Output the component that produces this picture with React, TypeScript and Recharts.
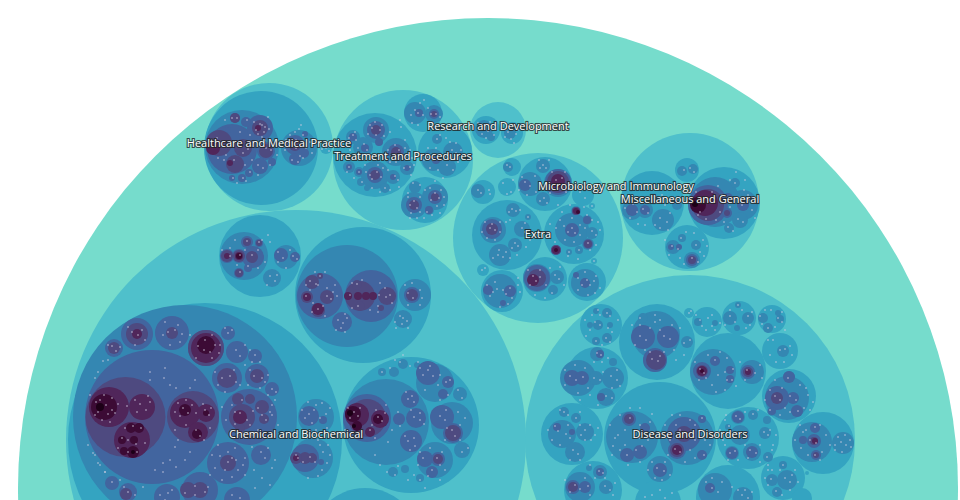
import { ScatterChart, Scatter, XAxis, YAxis, ZAxis } from 'recharts'

type Bubble = number[] // x, y, radius

const level0: Bubble[] = [[488, 488, 470]]

const level1: Bubble[] = [
  [269, 147, 64], [403, 160, 70], [498, 130, 28], [538, 238, 85], [690, 202, 69], [296, 440, 230], [690, 440, 165],
]

const level2: Bubble[] = [
  [261, 148, 57], [326, 148, 6], [375, 155, 42], [423, 113, 19], [445, 151, 27], [425, 200, 23],
  [486, 130, 14], [512, 133, 11],
  [545, 184, 27], [512, 167, 9], [483, 192, 12], [507, 187, 9], [507, 235, 35], [574, 234, 30], [545, 279, 22],
  [587, 282, 19], [502, 291, 21], [483, 270, 6], [594, 261, 3], [592, 206, 3], [583, 195, 11],
  [687, 170, 12], [652, 203, 32], [724, 203, 36], [687, 247, 22],
  [205, 440, 137], [260, 256, 41], [363, 295, 68], [411, 425, 68], [365, 543, 55],
  [601, 325, 21], [657, 342, 38], [689, 313, 5], [707, 322, 15], [739, 318, 17], [772, 319, 14], [780, 351, 18],
  [728, 371, 38], [789, 396, 27], [597, 378, 31], [572, 434, 31], [660, 438, 56], [748, 438, 31], [823, 443, 31],
  [593, 490, 29], [783, 478, 22], [728, 497, 32], [658, 503, 23], [802, 498, 10], [807, 473, 2],
]

const level3: Bubble[] = [
  [242, 147, 37], [299, 148, 18],
  [353, 137, 7], [376, 130, 13], [396, 152, 14], [363, 147, 10], [375, 175, 14], [393, 177, 7], [407, 168, 7],
  [349, 167, 6], [359, 172, 5], [361, 182, 4], [385, 188, 5], [367, 188, 3],
  [415, 113, 11], [434, 114, 9], [437, 139, 5], [433, 160, 11], [447, 167, 9], [453, 152, 10],
  [414, 205, 13], [435, 197, 13], [415, 187, 6], [429, 210, 5],
  [484, 129, 9], [491, 137, 4], [510, 133, 6], [517, 128, 3],
  [530, 184, 12], [558, 183, 14], [543, 166, 7], [543, 199, 7], [508, 167, 5], [478, 191, 7],
  [493, 230, 13], [513, 210, 7], [500, 255, 11], [515, 245, 7], [522, 229, 8], [528, 217, 3],
  [572, 230, 17], [587, 220, 5], [576, 211, 5], [556, 250, 5], [588, 244, 6], [592, 233, 6], [569, 252, 3], [579, 250, 4],
  [537, 278, 14], [557, 277, 7], [553, 290, 5], [585, 283, 14], [500, 291, 17],
  [682, 171, 5], [693, 169, 5], [632, 210, 10], [645, 210, 8], [663, 220, 11], [677, 205, 5],
  [715, 202, 25], [743, 205, 15], [740, 220, 8], [735, 183, 5], [729, 228, 5],
  [673, 247, 7], [696, 245, 5], [692, 260, 8], [682, 238, 4],
  [185, 417, 112], [316, 417, 18], [313, 458, 20],
  [244, 256, 24], [286, 257, 12], [272, 278, 9],
  [347, 296, 51], [415, 295, 16], [403, 319, 9],
  [386, 422, 43], [435, 383, 19], [452, 423, 21], [435, 460, 18], [462, 450, 8], [460, 394, 7], [394, 372, 5],
  [382, 372, 4], [403, 364, 5], [417, 365, 3], [420, 478, 4], [405, 469, 4], [393, 472, 5],
  [598, 325, 5], [590, 325, 3], [607, 313, 5], [596, 311, 3], [610, 325, 3], [607, 338, 5], [596, 341, 4],
  [656, 335, 24], [655, 360, 12], [643, 318, 5], [658, 322, 4], [687, 342, 6],
  [698, 322, 4], [715, 323, 3], [730, 318, 7], [748, 318, 6], [738, 305, 3], [737, 328, 3],
  [763, 318, 5], [778, 313, 3], [780, 319, 4], [768, 328, 5], [783, 351, 6],
  [713, 372, 23], [752, 372, 12], [787, 398, 22], [793, 398, 8], [789, 377, 6], [797, 411, 6], [772, 411, 5],
  [578, 378, 18], [596, 378, 7], [613, 378, 11], [597, 354, 7], [613, 362, 4], [606, 397, 9],
  [562, 434, 14], [585, 432, 9], [575, 452, 10], [576, 418, 5], [564, 412, 5],
  [632, 437, 26], [687, 438, 27], [660, 469, 13],
  [738, 417, 7], [732, 453, 7], [752, 452, 9], [740, 435, 10], [765, 433, 6], [768, 457, 5], [753, 415, 5], [767, 420, 4], [728, 427, 3],
  [812, 442, 20], [843, 443, 11],
  [580, 487, 15], [606, 487, 7], [600, 472, 7], [589, 468, 3], [787, 480, 10], [772, 480, 6], [783, 465, 4], [777, 492, 5],
  [715, 490, 17], [743, 497, 10],
]

const level4: Bubble[] = [
  [232, 149, 25], [260, 128, 13], [235, 118, 5], [246, 122, 5], [228, 130, 3], [269, 129, 3], [266, 151, 9],
  [260, 166, 8], [249, 173, 4], [242, 178, 4], [232, 178, 3], [235, 164, 9], [272, 162, 4],
  [295, 145, 10], [295, 159, 6], [304, 153, 5], [305, 134, 3],
  [376, 130, 9], [379, 142, 4], [396, 152, 8], [375, 175, 8], [353, 137, 4], [414, 205, 8], [435, 197, 7], [429, 210, 4],
  [419, 113, 4], [434, 114, 5], [436, 160, 4], [365, 148, 4], [349, 167, 3], [359, 172, 3], [407, 168, 3], [393, 177, 3],
  [525, 185, 6], [558, 182, 13], [492, 229, 10], [588, 244, 5], [587, 220, 4], [576, 211, 4], [556, 250, 5],
  [572, 230, 7], [537, 278, 13], [585, 283, 5], [576, 275, 3], [488, 290, 5], [510, 291, 6], [503, 303, 3],
  [632, 210, 6], [645, 210, 5], [708, 205, 20], [727, 213, 5], [728, 198, 5], [743, 205, 6], [692, 260, 6], [671, 247, 3], [679, 247, 3],
  [137, 334, 16], [172, 333, 17], [114, 348, 9], [206, 348, 18], [228, 333, 7], [237, 352, 11], [255, 356, 7],
  [227, 378, 15], [257, 376, 12], [272, 389, 7], [249, 417, 28], [228, 463, 21], [261, 455, 10], [112, 483, 7],
  [128, 492, 9], [167, 497, 13], [200, 490, 18], [237, 500, 13], [152, 417, 67],
  [309, 416, 10], [323, 420, 4], [305, 458, 14], [321, 462, 3],
  [247, 242, 6], [259, 243, 4], [227, 256, 7], [239, 256, 7], [253, 257, 11], [239, 273, 5], [248, 268, 4], [281, 255, 7], [295, 257, 5],
  [320, 296, 23], [371, 296, 26], [342, 322, 10], [412, 295, 8],
  [367, 418, 24], [410, 399, 9], [416, 418, 10], [411, 441, 11], [399, 419, 6], [428, 373, 12], [448, 382, 6], [443, 394, 5],
  [442, 417, 12], [453, 433, 10], [425, 459, 8], [438, 459, 7], [432, 472, 6],
  [643, 337, 12], [668, 337, 11], [655, 360, 12], [702, 371, 9], [715, 361, 5], [730, 370, 4], [730, 379, 4], [748, 372, 7],
  [777, 398, 12], [793, 398, 6], [789, 377, 6], [797, 411, 6], [772, 411, 4],
  [572, 378, 8], [582, 378, 7], [600, 354, 4], [601, 397, 4],
  [557, 427, 4], [572, 432, 3],
  [629, 419, 7], [627, 455, 7], [645, 428, 5], [640, 452, 7], [684, 434, 17], [677, 450, 9], [702, 419, 4], [702, 455, 5], [660, 470, 7],
  [738, 417, 6], [732, 453, 6], [752, 452, 6], [814, 441, 7], [815, 428, 5], [816, 455, 5], [803, 440, 4],
  [573, 487, 7], [585, 487, 6], [600, 472, 4], [710, 488, 5],
]

const level5: Bubble[] = [
  [219, 143, 13], [243, 148, 9], [260, 128, 8], [235, 164, 9], [235, 118, 5], [266, 151, 7], [295, 145, 6],
  [376, 130, 5], [396, 152, 5], [375, 175, 5], [414, 205, 5], [435, 197, 4], [434, 114, 3],
  [558, 182, 11], [492, 229, 6], [537, 278, 9], [588, 244, 4], [576, 211, 4], [556, 250, 5], [708, 205, 16], [727, 213, 3], [692, 260, 4],
  [137, 334, 11], [172, 333, 6], [126, 494, 6], [206, 348, 18], [114, 348, 6], [227, 378, 10], [257, 376, 7], [228, 463, 8],
  [200, 490, 8], [188, 490, 8], [242, 417, 13], [262, 407, 7], [250, 399, 5], [238, 399, 6], [264, 419, 5], [240, 428, 5],
  [125.5, 417, 40], [193, 417, 26], [305, 458, 6], [296, 458, 6], [312, 458, 5],
  [227, 256, 6], [239, 256, 6], [252, 257, 6], [247, 242, 4], [259, 243, 3], [239, 273, 4],
  [312, 282, 7], [307, 297, 6], [327, 297, 7], [318, 310, 7], [320, 276, 3], [360, 296, 15], [387, 296, 9], [357, 285, 5], [360, 306, 5], [381, 308, 3], [412, 295, 6],
  [367, 418, 19], [453, 433, 8], [438, 459, 5],
  [656, 360, 10], [702, 371, 6], [748, 372, 5], [777, 398, 6], [629, 419, 5], [677, 450, 7], [684, 434, 8], [816, 455, 3], [814, 441, 4], [573, 487, 5],
]

const level6: Bubble[] = [
  [213, 148, 7], [230, 163, 3], [258, 128, 3], [558, 181, 7], [556, 250, 4], [576, 211, 3],
  [705, 203, 13], [206, 348, 15], [137, 334, 5], [109, 407, 20], [142, 407, 13], [132, 440, 18], [185, 413, 15], [206, 413, 9], [198, 432, 10],
  [239, 256, 4], [227, 256, 3], [348, 296, 4], [358, 296, 4], [366, 296, 4], [373, 296, 4], [318, 309, 6], [307, 297, 4],
  [357, 415, 12], [380, 419, 9], [370, 432, 5], [357, 425, 5], [702, 371, 5], [748, 372, 3], [677, 450, 5], [815, 441, 3],
  [240, 417, 7], [296, 458, 3], [533, 280, 6],
]

const level7: Bubble[] = [
  [698, 205, 8], [206, 345, 9], [104, 407, 13], [131, 428, 5], [139, 428, 5], [122, 440, 4], [134, 440, 4], [133, 452, 6], [124, 451, 4],
  [185, 410, 6], [206, 413, 3], [197, 434, 5],
  [353, 414, 8], [378, 419, 5], [357, 426, 5], [556, 250, 2], [702, 371, 2], [239, 256, 3], [578, 212, 2],
]

const level8: Bubble[] = [[695, 204, 3], [100, 407, 4], [133, 452, 2], [350, 413, 3], [354, 426, 2]]

// pale specks, a pixel or so wide
const specks: Bubble[] = [
  [260, 124], [256, 130], [264, 132], [237, 118], [247, 120], [232, 118], [248, 149], [252, 146], [243, 153], [239, 146],
  [222, 145], [226, 155], [266, 148], [271, 150], [258, 165], [263, 168], [250, 172], [243, 178], [233, 178], [234, 160],
  [296, 140], [303, 135], [306, 148], [300, 156], [292, 160], [290, 135], [301, 125], [326, 148], [322, 149], [329, 151],
  [353, 135], [356, 140], [372, 128], [380, 130], [376, 135], [395, 145], [399, 150], [393, 155], [370, 175], [377, 172],
  [381, 177], [372, 179], [349, 167], [359, 172], [385, 188], [404, 168], [410, 167], [401, 127], [390, 132], [400, 120],
  [415, 110], [411, 115], [418, 113], [431, 114], [436, 114], [424, 100], [420, 103], [433, 160], [428, 157], [447, 165],
  [452, 150], [456, 153], [446, 138], [450, 142], [410, 205], [414, 201], [417, 208], [435, 193], [439, 198], [431, 200],
  [420, 185], [413, 183], [427, 212], [432, 215], [444, 205], [408, 193],
  [543, 165], [546, 168], [540, 168], [525, 182], [530, 186], [535, 176], [556, 180], [562, 178], [544, 198], [540, 201],
  [510, 167], [507, 165], [513, 180], [503, 183], [507, 194], [511, 192], [478, 190], [481, 193], [489, 190], [490, 194],
  [490, 228], [495, 230], [492, 224], [512, 209], [516, 211], [509, 212], [522, 228], [525, 232], [498, 255], [503, 257],
  [515, 243], [512, 248], [518, 246], [572, 228], [568, 232], [575, 233], [564, 226], [580, 225], [588, 243], [592, 231],
  [596, 235], [598, 222], [590, 250], [569, 252], [579, 250], [533, 276], [540, 277], [536, 281], [555, 275], [559, 279],
  [582, 285], [587, 280], [590, 285], [594, 281], [497, 289], [503, 290], [493, 292], [506, 294], [518, 285], [520, 292],
  [684, 170], [690, 168], [694, 172], [637, 212], [643, 209], [648, 213], [660, 218], [667, 222], [662, 195], [672, 200],
  [730, 180], [735, 183], [744, 190], [748, 195], [742, 205], [738, 219], [743, 222], [728, 227], [733, 231], [752, 210],
  [672, 246], [678, 249], [692, 258], [696, 245], [700, 252], [681, 238], [686, 232], [703, 240],
  [100, 400], [106, 405], [112, 410], [98, 412], [118, 404], [108, 414], [127, 406], [140, 404], [146, 410], [137, 412],
  [128, 440], [136, 444], [122, 438], [183, 408], [188, 413], [180, 416], [205, 410], [209, 415], [196, 430], [200, 436],
  [132, 332], [138, 335], [142, 330], [168, 332], [175, 330], [163, 335], [182, 334], [112, 346], [116, 351], [120, 347],
  [198, 346], [204, 350], [215, 345], [219, 353], [212, 358], [228, 333], [232, 330], [236, 350], [240, 356], [255, 355],
  [222, 378], [230, 376], [236, 382], [245, 365], [254, 376], [262, 378], [268, 375], [272, 389], [276, 392], [240, 413],
  [247, 420], [253, 411], [262, 415], [258, 430], [235, 424], [243, 433], [272, 405], [278, 425], [220, 456], [228, 452],
  [236, 460], [225, 470], [232, 477], [215, 468], [238, 470], [243, 465], [261, 452], [265, 458], [254, 470], [272, 468],
  [112, 482], [128, 492], [124, 487], [143, 487], [160, 495], [168, 493], [195, 486], [208, 487], [232, 495], [240, 498],
  [170, 385], [176, 388], [164, 378], [150, 380], [170, 460], [176, 467], [163, 472], [95, 455], [100, 465], [105, 472],
  [309, 414], [314, 410], [320, 418], [326, 414], [316, 405], [327, 428], [316, 430], [298, 458], [310, 457], [323, 452],
  [327, 463], [322, 470], [320, 445], [230, 256], [240, 255], [252, 255], [247, 241], [259, 242], [240, 272], [248, 266],
  [278, 252], [283, 258], [293, 256], [297, 259], [270, 276], [275, 281], [268, 235], [270, 242],
  [310, 281], [316, 284], [306, 296], [327, 296], [331, 299], [318, 309], [323, 306], [320, 276], [313, 303], [350, 295],
  [357, 284], [379, 295], [386, 297], [390, 295], [358, 306], [378, 306], [338, 320], [343, 323], [347, 318], [341, 328],
  [408, 293], [413, 298], [420, 290], [403, 318], [407, 321], [400, 316], [402, 324],
  [354, 412], [358, 416], [350, 418], [378, 417], [382, 421], [370, 430], [408, 399], [412, 396], [414, 417], [420, 420],
  [408, 441], [414, 438], [428, 370], [433, 376], [423, 375], [446, 382], [450, 380], [440, 416], [445, 420], [452, 430],
  [455, 436], [423, 458], [437, 458], [432, 470], [445, 470], [398, 466], [414, 475], [425, 488], [403, 355], [395, 360],
  [600, 325], [595, 322], [607, 313], [610, 316], [596, 341], [606, 338], [610, 342], [598, 310], [618, 320],
  [640, 336], [646, 340], [664, 336], [670, 339], [652, 359], [658, 361], [680, 328], [684, 343], [690, 340], [684, 355],
  [689, 313], [691, 311], [700, 320], [708, 318], [712, 326], [720, 323], [706, 330], [730, 316], [735, 322], [748, 316],
  [738, 305], [746, 328], [760, 316], [771, 310], [778, 318], [782, 322], [768, 328], [780, 350], [785, 349], [773, 340],
  [790, 346], [776, 362], [700, 369], [704, 373], [715, 360], [718, 375], [725, 372], [712, 385], [727, 380], [733, 369],
  [747, 370], [755, 373], [775, 396], [780, 400], [790, 396], [796, 400], [788, 378], [798, 411], [770, 410], [808, 395], [813, 402],
  [570, 376], [576, 380], [583, 377], [594, 378], [600, 380], [611, 376], [617, 380], [597, 353], [601, 355], [606, 396], [612, 398], [594, 362],
  [555, 426], [558, 431], [566, 434], [585, 430], [581, 435], [573, 450], [578, 454], [564, 412], [576, 418], [591, 440],
  [620, 415], [630, 418], [618, 435], [613, 446], [627, 455], [636, 450], [642, 446], [646, 432], [650, 422], [680, 430],
  [688, 435], [676, 425], [695, 440], [675, 449], [680, 452], [702, 418], [704, 455], [710, 432], [657, 468], [664, 471], [655, 478], [665, 462],
  [736, 416], [740, 419], [730, 453], [735, 451], [750, 450], [756, 453], [738, 435], [744, 437], [764, 432], [768, 435], [767, 457], [753, 414], [729, 426], [723, 440], [773, 445],
  [810, 440], [816, 443], [815, 427], [815, 455], [803, 432], [801, 448], [841, 442], [846, 445], [842, 452], [838, 437],
  [575, 485], [580, 489], [588, 486], [605, 486], [610, 490], [599, 471], [603, 473], [590, 465],
  [785, 478], [790, 482], [771, 479], [783, 465], [776, 491], [795, 470], [768, 470], [712, 488], [718, 492], [742, 495], [748, 498],
]

const moreSpecks: Bubble[] = [
  [480, 128], [484, 125], [488, 131], [482, 134], [492, 127], [486, 138], [490, 122], [478, 123], [494, 135], [508, 132], [512, 128], [516, 134], [511, 139], [505, 137], [518, 130], [514, 143],
  [262, 125], [265, 127], [258, 134], [262, 137], [254, 122], [269, 129], [268, 117], [240, 132], [250, 135], [225, 120], [217, 138], [224, 160], [218, 158], [245, 165], [252, 160], [265, 140], [275, 140], [277, 155], [270, 165], [258, 175], [246, 181], [237, 183],
  [296, 148], [292, 143], [299, 143], [303, 158], [298, 162], [285, 150], [286, 140], [310, 142], [312, 153], [295, 132], [299, 129],
  [370, 125], [375, 122], [382, 125], [368, 134], [384, 136], [355, 132], [349, 138], [358, 148], [364, 144], [367, 150], [388, 150], [402, 156], [405, 148], [396, 162], [390, 162], [405, 140], [410, 150], [412, 158], [345, 155], [350, 150],
  [365, 165], [378, 165], [383, 168], [388, 170], [395, 176], [398, 180], [366, 172], [354, 178], [347, 172], [362, 182], [372, 188], [380, 192], [390, 190], [399, 187], [411, 175], [414, 165],
  [423, 115], [428, 108], [412, 123], [418, 125], [440, 117], [432, 124], [437, 139], [440, 135], [428, 148], [436, 148], [424, 160], [430, 168], [438, 170], [442, 160], [453, 170], [458, 162], [461, 150], [449, 158], [456, 143], [443, 178],
  [408, 197], [420, 197], [420, 212], [411, 213], [425, 190], [430, 188], [441, 190], [444, 197], [437, 206], [440, 213], [424, 218], [417, 218], [410, 218], [435, 181],
  [552, 172], [565, 172], [570, 185], [566, 192], [550, 193], [522, 177], [519, 190], [527, 195], [536, 192], [539, 160], [549, 160], [558, 205], [580, 192], [585, 198], [588, 190], [547, 203],
  [485, 222], [482, 232], [487, 238], [495, 240], [500, 222], [500, 232], [506, 222], [510, 220], [520, 210], [528, 217], [525, 223], [530, 240], [526, 247], [517, 255], [510, 258], [493, 258], [499, 250], [506, 252],
  [556, 228], [560, 220], [572, 218], [580, 235], [585, 228], [574, 242], [565, 240], [555, 242], [587, 215], [592, 220], [596, 245], [600, 230], [550, 224], [548, 234], [570, 205], [562, 212], [584, 207], [592, 206], [594, 261], [578, 259], [568, 256],
  [528, 270], [530, 285], [540, 270], [546, 285], [550, 268], [560, 267], [564, 285], [552, 293], [545, 298], [535, 295],
  [578, 278], [578, 290], [585, 272], [596, 276], [600, 288], [595, 293], [588, 295],
  [487, 285], [490, 296], [495, 282], [510, 288], [512, 298], [508, 304], [500, 307], [518, 278], [482, 270], [485, 268],
  [640, 198], [633, 204], [625, 208], [630, 218], [648, 200], [655, 197], [665, 205], [670, 213], [655, 225], [660, 228], [668, 230], [638, 224], [645, 225],
  [696, 192], [700, 212], [712, 192], [718, 186], [722, 195], [726, 200], [730, 207], [720, 212], [716, 220], [724, 222], [706, 219], [698, 215], [748, 200], [752, 197], [740, 198], [755, 218], [736, 172], [745, 180],
  [665, 240], [669, 255], [680, 258], [684, 264], [698, 262], [704, 256], [707, 246], [694, 233],
  [90, 395], [96, 402], [104, 395], [112, 398], [115, 413], [102, 420], [95, 415], [110, 422], [150, 402], [148, 396], [135, 400], [125, 428], [133, 426], [141, 428], [128, 452], [137, 452], [145, 443], [118, 448],
  [178, 403], [186, 400], [192, 405], [196, 413], [175, 412], [203, 404], [211, 408], [186, 425], [175, 430], [210, 428], [204, 440],
  [95, 378], [98, 372], [103, 361], [108, 360], [93, 453], [98, 463], [105, 472], [88, 445], [150, 372], [165, 368], [190, 388], [195, 380], [175, 447], [163, 463], [155, 470], [185, 460], [190, 452], [178, 440],
  [128, 327], [145, 340], [135, 345], [165, 322], [178, 325], [180, 342], [170, 345], [190, 335], [108, 345], [205, 340], [210, 352], [220, 345], [212, 335], [196, 358], [225, 328], [245, 345], [250, 350], [260, 362], [252, 362],
  [215, 372], [218, 385], [225, 392], [234, 370], [240, 385], [250, 370], [248, 385], [260, 388], [265, 382], [268, 395], [275, 400],
  [232, 405], [242, 400], [235, 412], [250, 425], [258, 408], [266, 420], [270, 412], [252, 435], [237, 437], [226, 420], [222, 407], [272, 415],
  [212, 455], [218, 445], [235, 448], [245, 458], [210, 475], [222, 480], [245, 475], [228, 462], [232, 458], [252, 447], [268, 448], [275, 460], [262, 478], [255, 488], [270, 485],
  [195, 495], [205, 492], [185, 493], [165, 500], [172, 490], [120, 480], [135, 495],
  [305, 418], [312, 423], [302, 410], [330, 408], [308, 402], [322, 403], [296, 455], [303, 462], [315, 462], [318, 440], [328, 445], [330, 455], [308, 478], [318, 476],
  [230, 248], [222, 250], [237, 265], [245, 250], [258, 250], [265, 262], [258, 268], [262, 240], [235, 240], [278, 262], [290, 250], [286, 268], [267, 285], [277, 275],
  [306, 285], [318, 285], [327, 288], [333, 292], [310, 290], [312, 312], [325, 316], [337, 296], [335, 285], [315, 272], [325, 272], [352, 283], [362, 280], [380, 283], [385, 288], [392, 303], [370, 310], [378, 312], [352, 308], [345, 314], [336, 330], [345, 332],
  [405, 285], [412, 283], [422, 298], [420, 305], [408, 305], [395, 322], [396, 328], [408, 328],
  [348, 408], [360, 408], [376, 410], [385, 413], [345, 430], [362, 432], [375, 438], [372, 425], [386, 405], [392, 430], [388, 442],
  [406, 392], [414, 402], [411, 410], [420, 413], [424, 424], [405, 436], [415, 446], [398, 412], [400, 426], [410, 450],
  [420, 368], [430, 366], [440, 375], [438, 385], [425, 390], [448, 395], [440, 400], [458, 390], [462, 398], [446, 410], [458, 412], [460, 425], [465, 418], [447, 428], [445, 440], [460, 440], [462, 452], [468, 448],
  [420, 452], [430, 448], [442, 452], [440, 465], [428, 476], [418, 465], [395, 475], [387, 472], [380, 465], [375, 455], [408, 480], [420, 480], [440, 480],
  [382, 372], [390, 368], [400, 362], [410, 366], [418, 362],
  [585, 320], [590, 330], [600, 315], [592, 315], [608, 328], [612, 332], [586, 336], [602, 345],
  [632, 325], [640, 325], [650, 328], [655, 322], [660, 330], [672, 325], [645, 350], [650, 352], [660, 356], [664, 352], [674, 350], [676, 360], [635, 345], [640, 318], [655, 315], [660, 320],
  [696, 315], [702, 326], [712, 315], [715, 330], [730, 310], [742, 310], [750, 325], [752, 312], [725, 325], [765, 310], [762, 324], [775, 327], [782, 312], [785, 330], [768, 340], [792, 355], [784, 362], [770, 355],
  [695, 362], [699, 380], [706, 378], [708, 355], [720, 352], [727, 358], [732, 380], [736, 386], [725, 390], [716, 392], [740, 362], [745, 380], [760, 365], [762, 378],
  [770, 390], [775, 380], [782, 388], [785, 408], [790, 412], [780, 415], [765, 400], [800, 385], [806, 388], [804, 408], [810, 410],
  [565, 370], [565, 385], [575, 365], [585, 368], [588, 388], [578, 393], [590, 395], [603, 372], [617, 370], [620, 386], [612, 388], [580, 400], [598, 405], [602, 362], [608, 358],
  [548, 430], [552, 440], [560, 445], [568, 425], [570, 438], [585, 440], [590, 425], [580, 425], [570, 460], [580, 460], [560, 410], [568, 415], [580, 412], [595, 435], [598, 428],
  [610, 425], [615, 438], [620, 450], [625, 445], [625, 430], [635, 430], [640, 425], [640, 438], [648, 440], [630, 408], [640, 408], [652, 414], [612, 455], [628, 465], [640, 462],
  [665, 425], [670, 440], [672, 415], [680, 415], [690, 420], [695, 425], [700, 430], [705, 440], [690, 450], [695, 458], [685, 462], [668, 455], [710, 445], [662, 480], [648, 470], [670, 475], [652, 462],
  [726, 415], [745, 412], [758, 410], [770, 430], [776, 435], [772, 450], [760, 445], [745, 445], [748, 458], [738, 460], [725, 445], [720, 430], [728, 460], [760, 462], [768, 465], [725, 420],
  [800, 425], [806, 430], [820, 425], [826, 435], [830, 445], [822, 452], [808, 455], [820, 460], [795, 440], [835, 445], [850, 440], [851, 447], [845, 435], [835, 450],
  [565, 480], [570, 492], [585, 478], [590, 495], [615, 483], [613, 495], [605, 478], [595, 478],
  [772, 470], [780, 470], [792, 475], [798, 482], [790, 490], [782, 495], [768, 485], [765, 478], [706, 482], [722, 482], [732, 487], [738, 490], [745, 490], [752, 492], [712, 478],
  [660, 490], [652, 495], [665, 498], [645, 497], [672, 493],
]

const labels = [
  { x: 269, y: 142.5, name: 'Healthcare and Medical Practice' },
  { x: 403, y: 155.5, name: 'Treatment and Procedures' },
  { x: 498, y: 125.5, name: 'Research and Development' },
  { x: 616, y: 185.5, name: 'Microbiology and Immunology' },
  { x: 538, y: 233.5, name: 'Extra' },
  { x: 690, y: 198.5, name: 'Miscellaneous and General' },
  { x: 296, y: 433.5, name: 'Chemical and Biochemical' },
  { x: 690, y: 433.5, name: 'Disease and Disorders' },
]

const levels = [level0, level1, level2, level3, level4, level5, level6, level7, level8, specks, moreSpecks]
const colors = ['#76dccc', '#4fc0cb', '#34a4c1', '#3487b2', '#42659f', '#4e4a80', '#50265a', '#3c0b35', '#1c0016', '#cfcce2', '#cfcce2']

const speckRadius = 0.75

const toRows = (list: Bubble[]) =>
  list.map(([x, y, r = speckRadius]) => ({ x, y, area: Math.PI * r * r }))

const Disc = (props: any) => <circle cx={props.cx} cy={props.cy} r={props.width / 2} fill={props.fill} />

const Label = (props: any) => (
  <text
    x={props.cx}
    y={props.cy}
    textAnchor="middle"
    dominantBaseline="central"
    fontFamily="Open Sans"
    fontSize={11}
    fill="#fff"
    stroke="#222"
    strokeWidth={2.2}
    strokeOpacity={0.8}
    paintOrder="stroke"
  >
    {props.payload.name}
  </text>
)

export default function App() {
  return (
    <div style={{ position: 'absolute', left: 0, top: 0, width: 960, height: 500 }}>
      <ScatterChart width={960} height={500} margin={{ top: 0, right: 0, bottom: 0, left: 0 }}>
        <XAxis type="number" dataKey="x" domain={[0, 960]} hide allowDataOverflow />
        <YAxis type="number" dataKey="y" domain={[0, 500]} reversed hide allowDataOverflow />
        <ZAxis type="number" dataKey="area" domain={[0, 700000]} range={[0, 700000]} />
        {levels.map((list, i) => (
          <Scatter key={i} data={toRows(list)} fill={colors[i]} shape={Disc} isAnimationActive={false} />
        ))}
        <Scatter data={labels} shape={Label} isAnimationActive={false} />
      </ScatterChart>
    </div>
  )
}
